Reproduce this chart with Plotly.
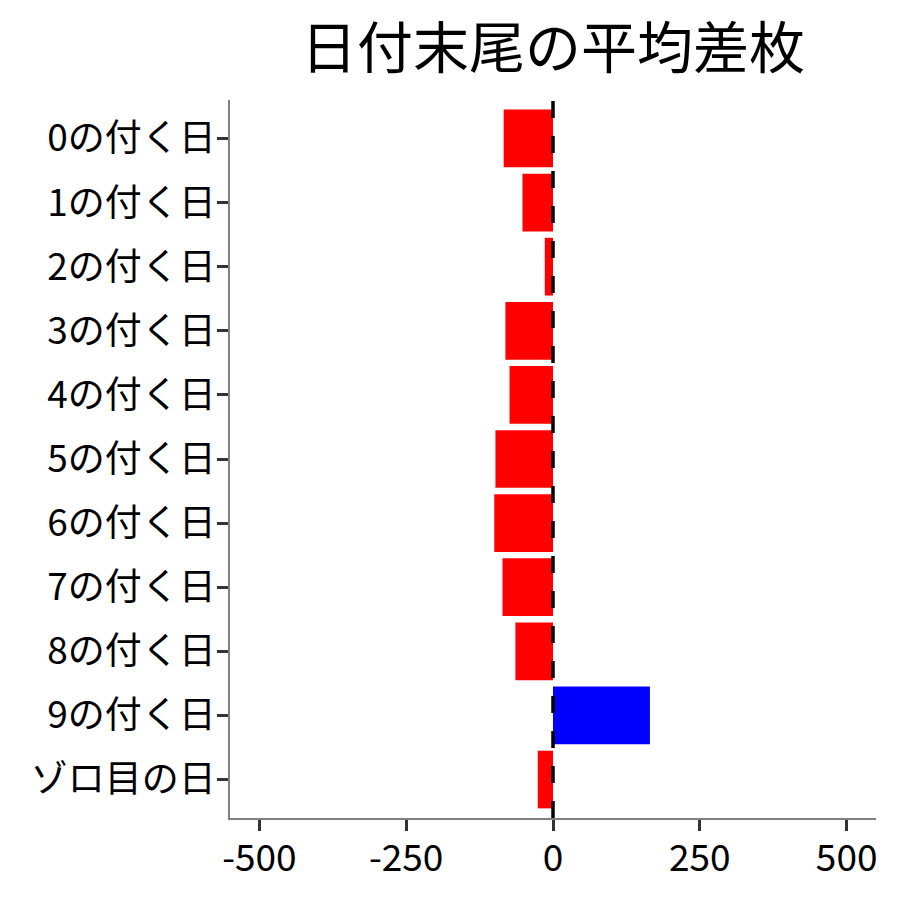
import plotly.graph_objects as go

# 日付末尾ごとの平均差枚
days = ["0の付く日", "1の付く日", "2の付く日", "3の付く日", "4の付く日",
        "5の付く日", "6の付く日", "7の付く日", "8の付く日", "9の付く日",
        "ゾロ目の日"]
avg_diff = [-84, -52, -14, -81, -74, -98, -100, -86, -64, 165, -26]

x_ticks = [-500, -250, 0, 250, 500]

font_family = "Noto Sans CJK JP"

bar_colors = ["blue" if v > 0 else "red" for v in avg_diff]

fig = go.Figure()

fig.add_trace(go.Bar(
    x=avg_diff,
    y=days,
    orientation="h",
    marker=dict(color=bar_colors, line=dict(width=0)),
    showlegend=False,
))

# 0 の位置に破線
fig.add_shape(
    type="line",
    xref="x", yref="paper",
    x0=0, x1=0, y0=0, y1=1,
    line=dict(color="black", width=3.5, dash="17px,18px"),
    layer="above",
)

fig.update_layout(
    width=900,
    height=900,
    plot_bgcolor="white",
    paper_bgcolor="white",
    font=dict(family=font_family, color="black"),
    bargap=0.1,
    margin=dict(l=222, r=32, t=92, b=90, autoexpand=False),
    title=dict(
        text="日付末尾の平均差枚",
        font=dict(size=56, family=font_family, color="black"),
        x=0.5, xref="paper", xanchor="center",
        y=0.955, yref="container", yanchor="middle",
    ),
    xaxis=dict(
        range=[-550, 550],
        tickvals=x_ticks,
        ticktext=[str(v) for v in x_ticks],
        showgrid=False,
        zeroline=False,
        showline=True,
        linecolor="#808080",
        linewidth=1.5,
        ticks="outside",
        ticklen=11,
        tickwidth=3,
        tickcolor="#333333",
        tickfont=dict(size=37, color="black"),
        ticklabelstandoff=-4,
    ),
    yaxis=dict(
        type="category",
        categoryorder="array",
        categoryarray=days,
        range=[len(days) - 0.4, -0.6],
        showgrid=False,
        zeroline=False,
        showline=True,
        linecolor="#808080",
        linewidth=1.5,
        ticks="outside",
        ticklen=11,
        tickwidth=3,
        tickcolor="#333333",
        tickfont=dict(size=37, color="black"),
        ticklabelstandoff=-6,
    ),
)

fig.write_html("out.html")
